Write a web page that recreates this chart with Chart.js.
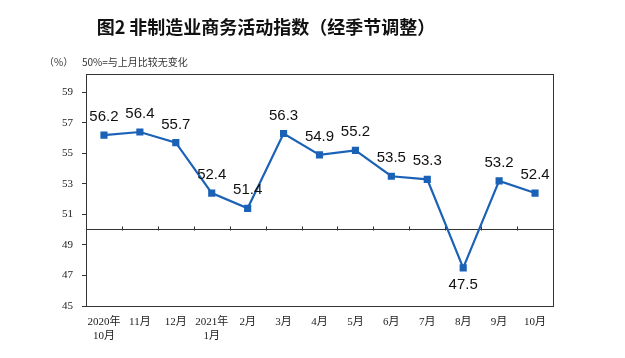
<!DOCTYPE html>
<html>
<head>
<meta charset="utf-8">
<script src="https://cdn.jsdelivr.net/npm/chart.js@4/dist/chart.umd.min.js"></script>
<style>
  html, body { margin: 0; padding: 0; background: #fff; }
  #wrap { width: 625px; height: 358px; }
</style>
</head>
<body>
<div id="wrap"><canvas id="chart"></canvas></div>
<script>
// data
const months = [
  ["2020年", "10月"], "11月", "12月", ["2021年", "1月"], "2月", "3月",
  "4月", "5月", "6月", "7月", "8月", "9月", "10月"
];
const indexValues = [56.2, 56.4, 55.7, 52.4, 51.4, 56.3, 54.9, 55.2, 53.5, 53.3, 47.5, 53.2, 52.4];
const yTicks = [45, 47, 49, 50, 51, 53, 55, 57, 59];
const baseline = 50;

const blue = '#1b62b7';
const ink = '#333';

// title, frame, baseline tick marks and value labels
const decor = {
  id: 'decor',
  afterDraw(chart) {
    const { ctx, chartArea: a, scales: { x, y } } = chart;
    ctx.save();

    ctx.fillStyle = '#111';
    ctx.textAlign = 'center';
    ctx.textBaseline = 'middle';
    ctx.font = 'bold 18px "Noto Sans CJK SC"';
    ctx.fillText('图2 非制造业商务活动指数（经季节调整）', 266, 27);

    ctx.font = '10px "Noto Sans CJK SC"';
    ctx.textAlign = 'left';
    ctx.fillStyle = '#333';
    ctx.fillText('（%）', 44, 62);
    ctx.fillText('50%=与上月比较无变化', 82, 62);

    // frame
    ctx.strokeStyle = ink;
    ctx.lineWidth = 1;
    ctx.strokeRect(Math.round(a.left) + 0.5, Math.round(a.top) + 0.5,
      Math.round(a.right - a.left), Math.round(a.bottom - a.top));

    // small marks on the 50 line between months
    const y50 = Math.round(y.getPixelForValue(baseline)) + 0.5;
    ctx.beginPath();
    for (let i = 1; i < months.length; i++) {
      const xm = Math.round((x.getPixelForValue(i - 1) + x.getPixelForValue(i)) / 2) + 0.5;
      ctx.moveTo(xm, y50);
      ctx.lineTo(xm, y50 - 4);
    }
    ctx.stroke();

    // value labels
    ctx.font = '15px "Liberation Sans", Arial';
    ctx.fillStyle = '#111';
    ctx.textAlign = 'center';
    chart.getDatasetMeta(0).data.forEach((pt, i) => {
      const v = indexValues[i];
      const dy = v < baseline ? 17 : -18;
      ctx.fillText(v.toFixed(1), pt.x, pt.y + dy);
    });
    ctx.restore();
  }
};

new Chart(document.getElementById('chart'), {
  type: 'line',
  data: {
    labels: months,
    datasets: [{
      data: indexValues,
      borderColor: blue,
      backgroundColor: blue,
      borderWidth: 2.2,
      pointStyle: 'rect',
      pointRadius: 3.5,
      pointHoverRadius: 3.5,
      tension: 0
    }]
  },
  options: {
    responsive: true,
    maintainAspectRatio: false,
    animation: false,
    layout: { padding: { top: 74, right: 72, left: 0, bottom: 0 } },
    plugins: { legend: { display: false }, tooltip: { enabled: false } },
    scales: {
      x: {
        offset: true,
        grid: { display: false },
        border: { display: false },
        ticks: {
          color: '#222',
          padding: 2,
          maxRotation: 0,
          autoSkip: false,
          font: { family: '"Liberation Serif", "Noto Sans CJK SC"', size: 11 }
        },
        afterFit(s) { s.height = 52; }
      },
      y: {
        min: 45,
        max: 60.2,
        afterBuildTicks(s) { s.ticks = yTicks.map(v => ({ value: v })); },
        afterFit(s) { s.width = 86; },
        border: { display: false },
        grid: {
          color: c => c.tick && c.tick.value === baseline ? ink : 'rgba(0,0,0,0)',
          tickColor: c => c.tick && c.tick.value === baseline ? 'rgba(0,0,0,0)' : ink,
          tickLength: 4,
          lineWidth: 1
        },
        ticks: {
          color: '#222',
          padding: 9,
          callback: v => v === baseline ? '' : v,
          font: { family: '"Liberation Serif", serif', size: 11 }
        }
      }
    }
  },
  plugins: [decor]
});
</script>
</body>
</html>
